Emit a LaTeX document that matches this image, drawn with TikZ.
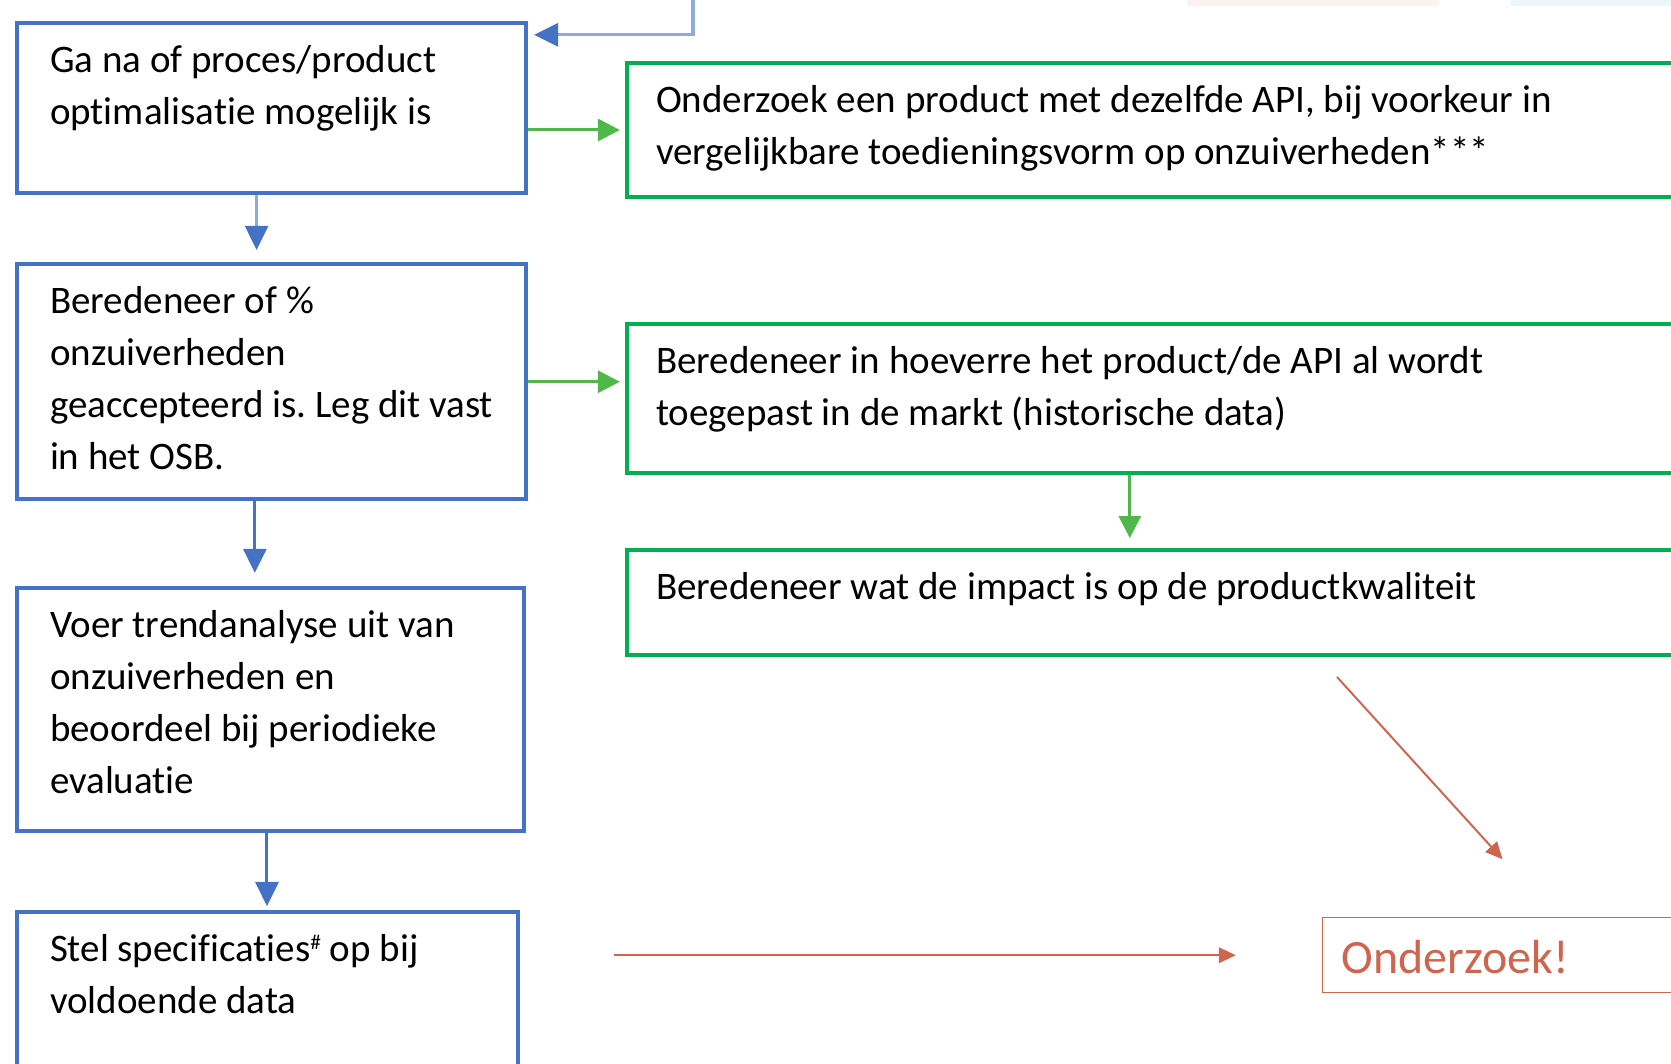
\documentclass[tikz,border=0pt]{standalone}
\usepackage{fontspec}
\setmainfont[Ligatures=NoCommon]{Carlito}
\usetikzlibrary{arrows.meta}
\definecolor{blokblauw}{HTML}{4472C4}
\definecolor{lijnblauw}{HTML}{8FAADC}
\definecolor{blokgroen}{HTML}{00B050}
\definecolor{pijlgroen}{HTML}{4FB848}
\definecolor{rood}{HTML}{D0654F}
\definecolor{roze}{HTML}{FDF1F1}
\definecolor{lichtcyaan}{HTML}{EAF6F9}
\newlength{\px}\setlength{\px}{0.282pt}
\newcommand{\tekst}[3]{\parbox[t][#2\px][t]{#1\px}{\raggedright\rule{0pt}{14.1pt}#3}}
\frenchspacing

\begin{document}
\begin{tikzpicture}[x=0.282pt,y=-0.282pt]
	\tikzstyle{blauwvak}=[draw=blokblauw,line width=1.13pt,anchor=north west,inner sep=0pt,font=\fontsize{11}{14.6}\selectfont]
	\tikzstyle{groenvak}=[draw=blokgroen,line width=1.13pt,anchor=north west,inner sep=0pt,font=\fontsize{11}{14.6}\selectfont]
	\tikzstyle{roodvak}=[draw=rood,text=rood,line width=0.42pt,anchor=north west,inner sep=0pt,font=\fontsize{13.5}{16}\selectfont]
	\tikzstyle{blauwpijl}=[draw=blokblauw,line width=0.85pt,-{Triangle[length=6.8pt,width=6.5pt,color=blokblauw]}]
	\tikzstyle{groenpijl}=[draw=pijlgroen,line width=0.85pt,-{Triangle[length=6.2pt,width=6.2pt]}]
	\tikzstyle{roodpijl}=[draw=rood,line width=0.56pt,-{Triangle[length=4.8pt,width=4.4pt]}]
	\clip (0,0) rectangle (1671,1064);
	\fill[roze] (1187,0) rectangle (1439,6);
	\fill[lichtcyaan] (1511,0) rectangle (1671,6);

	\node[blauwvak,minimum width=509*\px,minimum height=170*\px] (GN) at (15,21) {\tekst{443}{170}{Ga na of proces/product\\optimalisatie mogelijk is}};
	\node[blauwvak,minimum width=509*\px,minimum height=235.5*\px] (BO) at (15,262) {\tekst{443}{235.5}{Beredeneer of \%\\onzuiverheden\\geaccepteerd is. Leg dit vast\\in het OSB.}};
	\node[blauwvak,minimum width=507*\px,minimum height=243*\px] (TA) at (15,586) {\tekst{441}{243}{Voer trendanalyse uit van\\onzuiverheden en\\beoordeel bij periodieke\\evaluatie}};
	\node[blauwvak,minimum width=501*\px,minimum height=190*\px] (SP) at (15,910) {\tekst{435}{190}{Stel specificaties\raisebox{3.6pt}{\fontsize{6}{6}\selectfont\#} op bij\\voldoende data}};

	\node[groenvak,minimum width=1075*\px,minimum height=134*\px] (OP) at (624.5,61) {\tekst{1016}{134}{Onderzoek een product met dezelfde API, bij voorkeur in\\vergelijkbare toedieningsvorm op onzuiverheden***}};
	\node[groenvak,minimum width=1075*\px,minimum height=149*\px] (BM) at (624.5,322) {\tekst{1016}{149}{Beredeneer in hoeverre het product/de API al wordt\\toegepast in de markt (historische data)}};
	\node[groenvak,minimum width=1075*\px,minimum height=105*\px] (BI) at (624.5,548) {\tekst{1016}{105}{Beredeneer wat de impact is op de productkwaliteit}};

	\node[roodvak,minimum width=378*\px,minimum height=75*\px] (OZ) at (1322,917) {\parbox[t][75\px][t]{340\px}{\rule{0pt}{15.8pt}Onderzoek!}};

	\coordinate (boven) at (693,-10);
	\draw[blauwpijl,draw=lijnblauw,shorten >=1.7pt] (boven) |- ([yshift=-3.9pt]GN.north east);
	\draw[blauwpijl,draw=lijnblauw,shorten >=3.4pt] ([xshift=-4.2pt]GN.south) -- ([xshift=-4.2pt]GN.south |- BO.north);
	\draw[blauwpijl,shorten >=3.7pt] ([xshift=-4.7pt]BO.south) -- ([xshift=-4.7pt]BO.south |- TA.north);
	\draw[blauwpijl,shorten >=1.1pt] ([xshift=-1pt]TA.south) -- ([xshift=-1pt]TA.south |- SP.north);

	\draw[groenpijl,shorten >=1.3pt] (OP.west -| GN.east) -- (OP.west);
	\draw[groenpijl,shorten >=1.3pt] (BO.east) -- (BO.east -| BM.west);
	\draw[groenpijl,shorten >=2.8pt] ([xshift=142.5pt]BM.south west) -- ([xshift=142.5pt]BI.north west);

	\draw[roodpijl,shorten <=7.6pt,shorten >=22pt] ([xshift=195.8pt]BI.south west) -- ([xshift=65.7pt]OZ.north west);
	\draw[roodpijl,shorten <=26.5pt,shorten >=24.3pt] (OZ.west -| SP.east) -- (OZ.west);
\end{tikzpicture}
\end{document}
